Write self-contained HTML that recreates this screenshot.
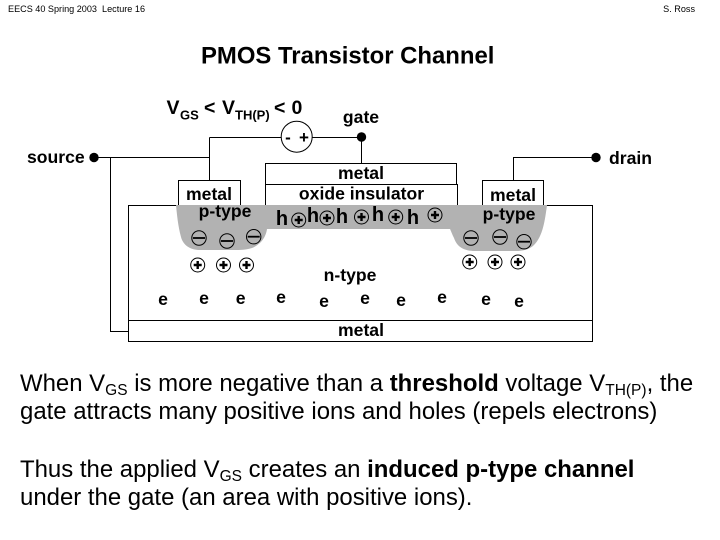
<!DOCTYPE html>
<html><head><meta charset="utf-8"><style>
html,body{margin:0;padding:0;background:#fff}
svg{display:block}
text{font-family:"Liberation Sans",Arial,sans-serif;fill:#000;white-space:pre}
.b{font-weight:bold}
.lb{font-weight:bold;font-size:17.6px;text-anchor:middle}
.e{font-weight:bold;font-size:17.6px;text-anchor:middle}
.h{font-weight:bold;font-size:20px;text-anchor:middle}
.body{font-size:23.95px}
</style></head><body>
<svg width="720" height="540" viewBox="0 0 720 540" xmlns="http://www.w3.org/2000/svg">
<defs>
<g id="p"><circle r="7" fill="none" stroke="#000" stroke-width="1"/><path d="M-4 0H4M0-4V4" stroke="#000" stroke-width="2.4"/></g>
<g id="m"><circle r="7.2" fill="none" stroke="#000" stroke-width="1"/><path d="M-6 0H6" stroke="#000" stroke-width="1.8"/></g>
</defs>
<rect width="720" height="540" fill="#fff"/>
<text x="8" y="12" font-size="9.1">EECS 40 Spring 2003  Lecture 16</text>
<text x="695" y="12" font-size="9.1" text-anchor="end">S. Ross</text>
<text x="201" y="63.5" class="b" font-size="23.9">PMOS Transistor Channel</text>

<text x="166.5" y="114" class="b" font-size="19.5">V</text>
<text x="180" y="119.5" class="b" font-size="13">GS</text>
<text x="204" y="114" class="b" font-size="19.5">&lt;</text>
<text x="222" y="114" class="b" font-size="19.5">V</text>
<text x="235" y="119.5" class="b" font-size="13">TH(P)</text>
<text x="274" y="114" class="b" font-size="19.5">&lt;</text>
<text x="291.5" y="114" class="b" font-size="19.5">0</text>
<text x="361" y="123" class="lb">gate</text>
<text x="27" y="163" class="b" font-size="17.6">source</text>
<text x="609" y="164" class="b" font-size="17.6">drain</text>

<g fill="none" stroke="#000" stroke-width="1">
<rect x="128.5" y="205.5" width="464" height="115"/>
<rect x="128.5" y="320.5" width="464" height="21"/>
<path d="M94 157.5H209.5M209.5 137.5V181M209.5 137.5H281M312 137.5H361.5M361.5 137.5V163M110.5 157.5V331.5H128M513.5 181V157.5H596"/>
<rect x="178.5" y="180.5" width="62" height="25"/>
<rect x="265.5" y="163.5" width="191" height="21"/>
<rect x="265.5" y="184.5" width="192" height="21"/>
<rect x="482.5" y="180.5" width="61" height="25"/>
<circle cx="296.7" cy="136.7" r="15.5" fill="#fff"/>
</g>
<path fill="#b2b2b2" d="M176 205H547C545 220 543 236 534 245C529 250 522 251 516 251H475C464 251 457 247 454 238C452 234 451 231 450 229H267C266 236 262 244 252 248C246 250 240 250 234 250H200C190 250 183 245 181 237C178 226 177 215 176 205Z"/>
<circle cx="94" cy="157.5" r="4.7"/>
<circle cx="361.5" cy="137" r="4.7"/>
<circle cx="596" cy="157.5" r="4.7"/>

<text x="288" y="143" class="b" font-size="17" text-anchor="middle">-</text>
<text x="304" y="143" class="b" font-size="17" text-anchor="middle">+</text>

<text x="209" y="200" class="lb">metal</text>
<text x="361" y="179" class="lb">metal</text>
<text x="361.5" y="199.5" class="lb">oxide insulator</text>
<text x="513" y="201" class="lb">metal</text>
<text x="225" y="217" class="lb">p-type</text>
<text x="509" y="220" class="lb">p-type</text>
<text x="350" y="281" class="lb">n-type</text>
<text x="361" y="336" class="lb">metal</text>

<text x="282" y="225" class="h">h</text>
<text x="313" y="222" class="h">h</text>
<text x="342" y="223" class="h">h</text>
<text x="378" y="221" class="h">h</text>
<text x="413" y="224" class="h">h</text>

<use href="#p" x="298.7" y="220"/><use href="#p" x="327" y="218"/><use href="#p" x="361.5" y="217"/>
<use href="#p" x="395.7" y="217"/><use href="#p" x="435" y="215"/>

<use href="#m" x="199" y="238"/><use href="#m" x="227" y="241"/><use href="#m" x="253.7" y="236.7"/>
<use href="#m" x="471" y="238"/><use href="#m" x="500" y="237"/><use href="#m" x="524" y="241.7"/>
<use href="#p" x="197.7" y="265"/><use href="#p" x="223.5" y="265"/><use href="#p" x="246.5" y="265"/>
<use href="#p" x="469.7" y="262"/><use href="#p" x="495" y="262"/><use href="#p" x="518" y="262"/>

<text x="163" y="305" class="e">e</text><text x="204" y="304" class="e">e</text><text x="240.7" y="304" class="e">e</text>
<text x="281" y="303" class="e">e</text><text x="324" y="307" class="e">e</text><text x="365" y="304" class="e">e</text>
<text x="401" y="306" class="e">e</text><text x="442" y="303" class="e">e</text><text x="486" y="305" class="e">e</text><text x="519" y="307" class="e">e</text>

<text x="20" y="391" class="body">When V<tspan font-size="15.5" dy="4">GS</tspan><tspan dy="-4"> is more negative than a </tspan><tspan font-weight="bold">threshold</tspan> voltage V<tspan font-size="15.5" dy="4">TH(P)</tspan><tspan dy="-4">, the</tspan></text>
<text x="20" y="419" class="body">gate attracts many positive ions and holes (repels electrons)</text>
<text x="20" y="477" class="body">Thus the applied V<tspan font-size="15.5" dy="4">GS</tspan><tspan dy="-4"> creates an </tspan><tspan font-weight="bold">induced p-type channel</tspan></text>
<text x="20" y="505" class="body">under the gate (an area with positive ions).</text>
</svg>
</body></html>
